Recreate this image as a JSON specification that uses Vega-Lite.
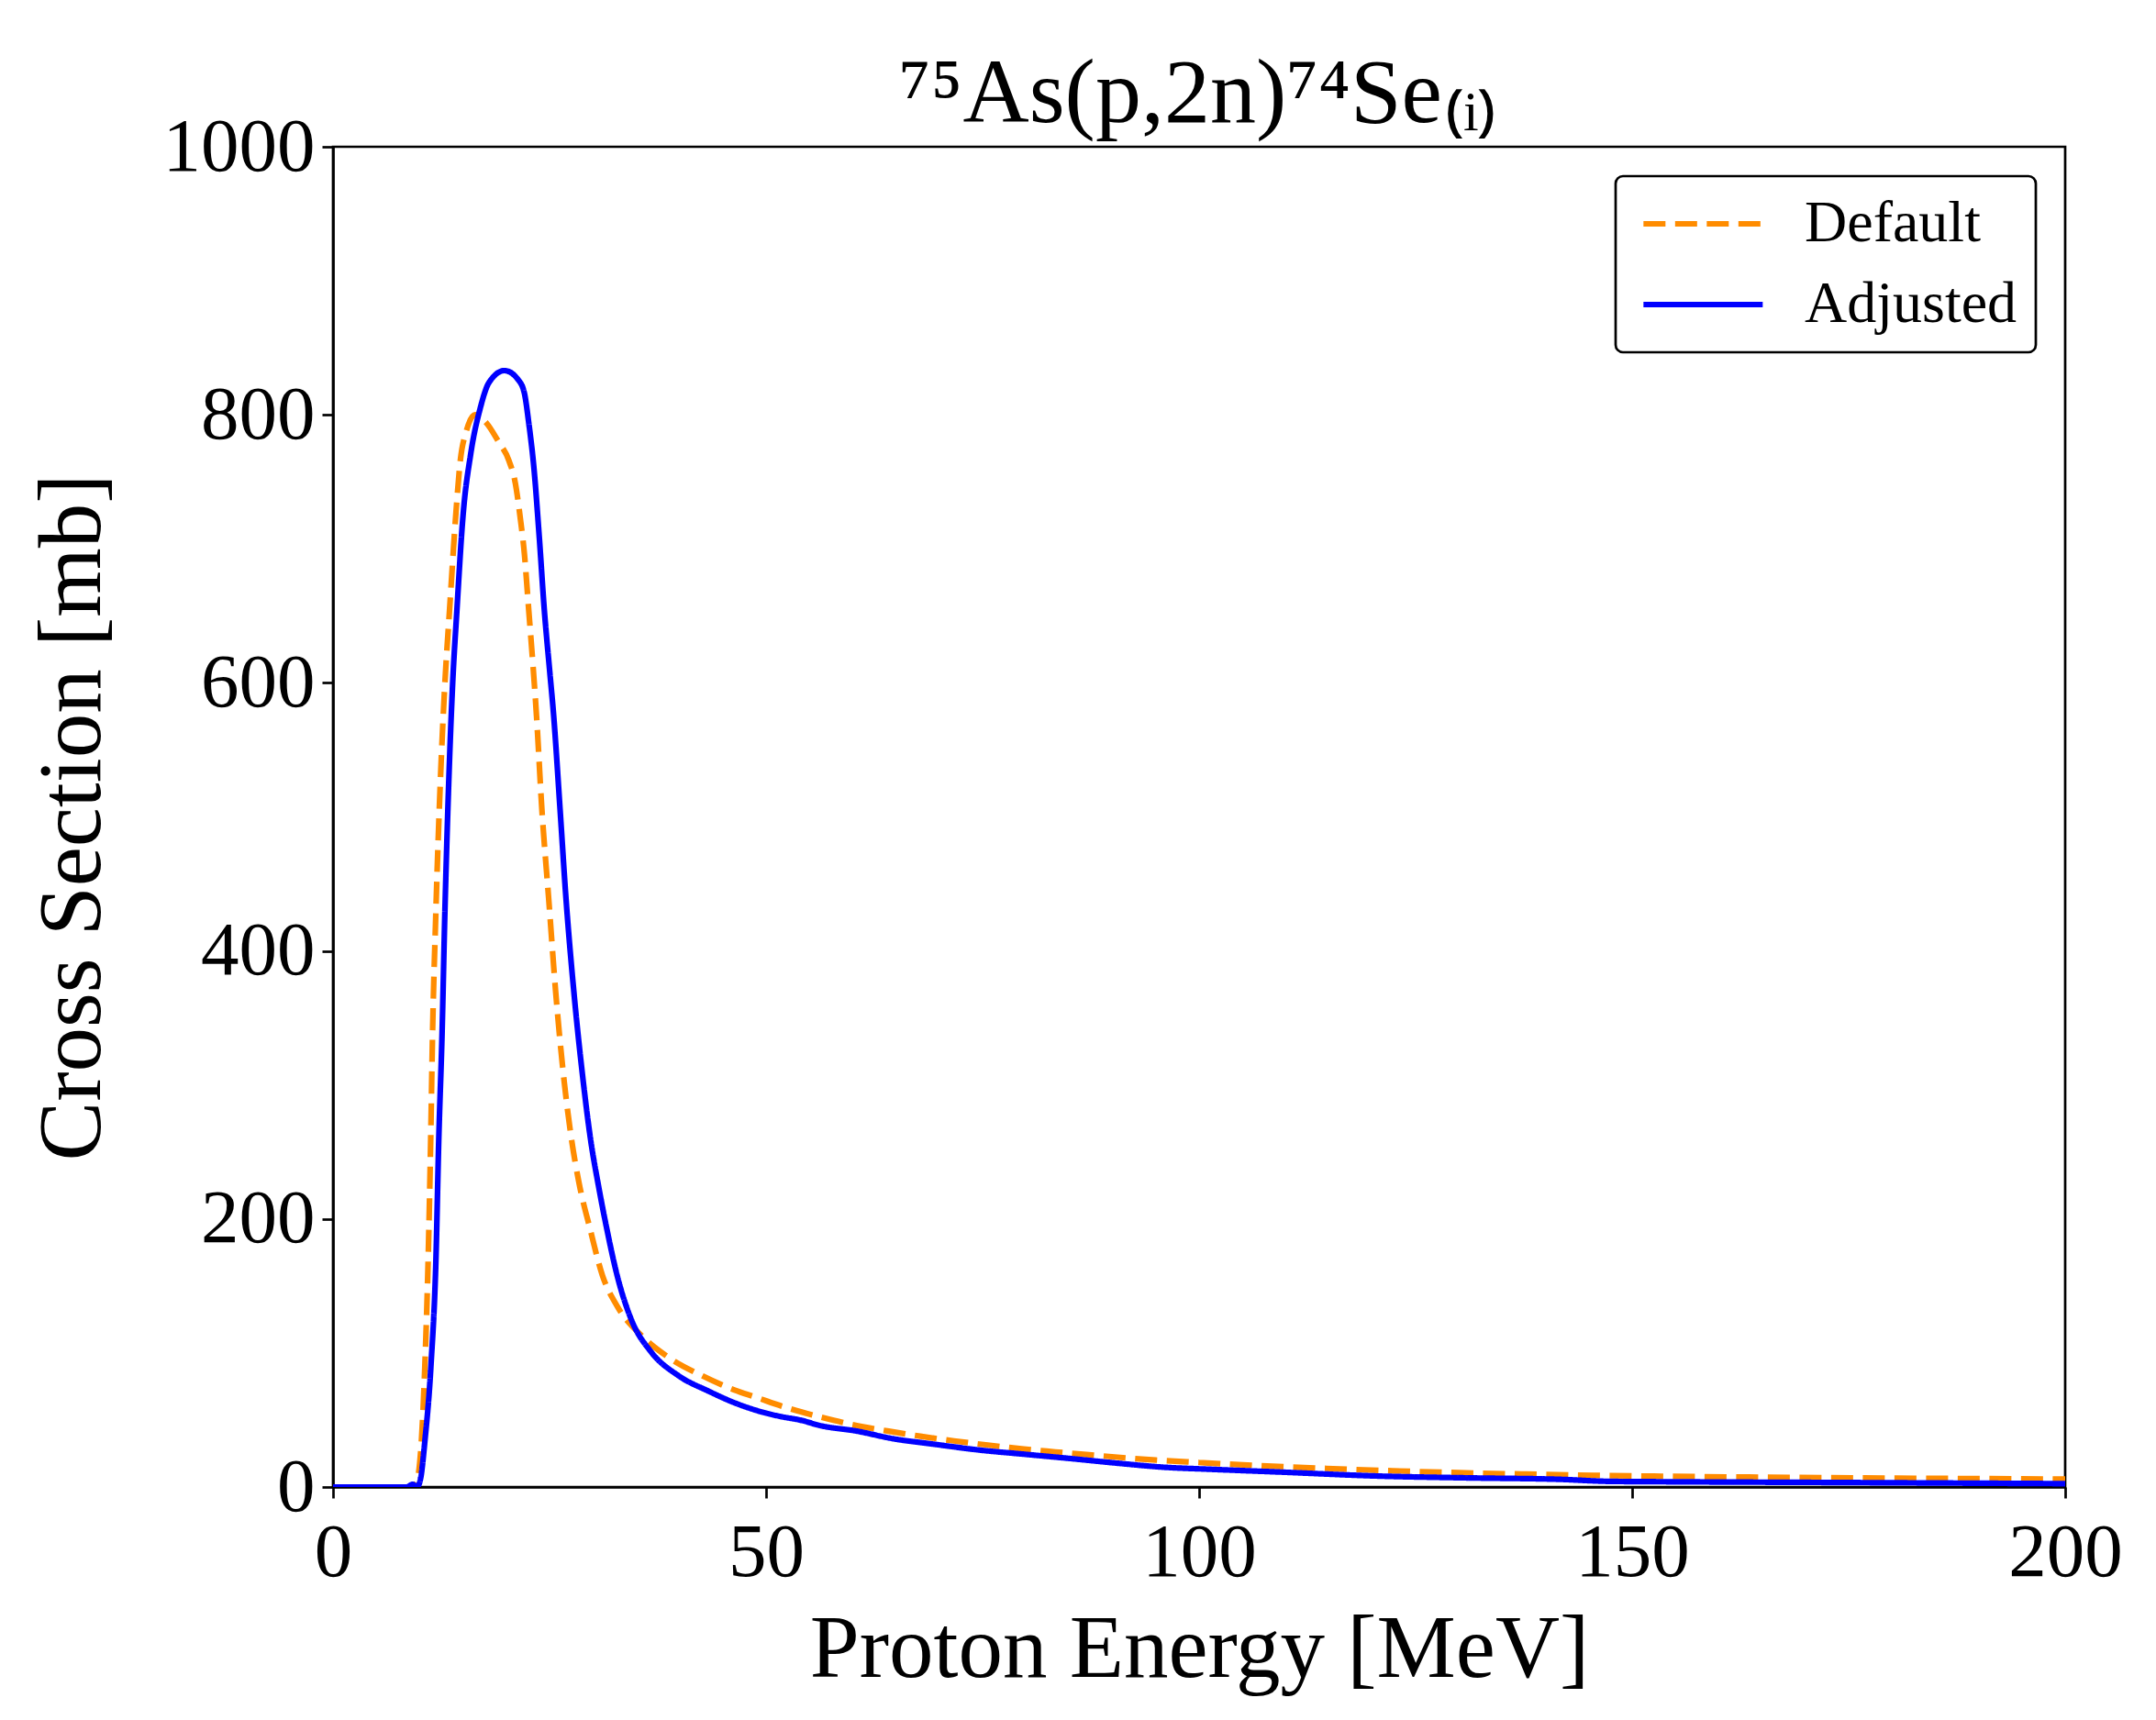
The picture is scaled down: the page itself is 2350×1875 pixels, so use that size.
{
  "$schema": "https://vega.github.io/schema/vega-lite/v6.json",
  "autosize": "none",
  "width": 1888,
  "height": 1461,
  "padding": {"left": 363, "top": 160, "right": 99, "bottom": 254},
  "background": "white",
  "title": {
    "text": "⁷⁵As(p,2n)⁷⁴Se₍ᵢ₎",
    "font": "Liberation Serif",
    "fontSize": 100,
    "fontWeight": "normal",
    "color": "black",
    "anchor": "middle",
    "baseline": "alphabetic",
    "offset": 27,
    "dy": 141
  },
  "config": {
    "font": "Liberation Serif",
    "view": {"stroke": "black", "strokeWidth": 2.7},
    "axis": {
      "grid": false,
      "domainColor": "black",
      "domainWidth": 2.7,
      "tickColor": "black",
      "tickWidth": 2.7,
      "tickSize": 12,
      "labelFont": "Liberation Serif",
      "labelFontSize": 83,
      "labelColor": "black",
      "labelLimit": 400,
      "titleFont": "Liberation Serif",
      "titleFontSize": 97,
      "titleFontWeight": "normal",
      "titleColor": "black"
    },
    "legend": {
      "title": null,
      "orient": "top-right",
      "offset": 32,
      "symbolType": "M-1,0H5",
      "symbolSize": 1878,
      "symbolStrokeWidth": 6.2,
      "labelFont": "Liberation Serif",
      "labelFontSize": 64,
      "labelColor": "black",
      "labelLimit": 600,
      "labelOffset": 122,
      "padding": 20,
      "rowPadding": 24,
      "strokeColor": "black",
      "cornerRadius": 8,
      "fillColor": "white"
    }
  },
  "data": {
    "values": [
      {"series": "Default", "E": 0, "xs": 0},
      {"series": "Default", "E": 5, "xs": 0},
      {"series": "Default", "E": 9.0, "xs": 0},
      {"series": "Default", "E": 9.6, "xs": 3},
      {"series": "Default", "E": 10.2, "xs": 34},
      {"series": "Default", "E": 10.6, "xs": 90},
      {"series": "Default", "E": 11.0, "xs": 174},
      {"series": "Default", "E": 11.27, "xs": 257},
      {"series": "Default", "E": 11.5, "xs": 341},
      {"series": "Default", "E": 11.85, "xs": 424},
      {"series": "Default", "E": 12.4, "xs": 528},
      {"series": "Default", "E": 12.9, "xs": 598},
      {"series": "Default", "E": 13.45, "xs": 654},
      {"series": "Default", "E": 14.16, "xs": 724},
      {"series": "Default", "E": 14.7, "xs": 766},
      {"series": "Default", "E": 15.4, "xs": 788},
      {"series": "Default", "E": 16.4, "xs": 800},
      {"series": "Default", "E": 17.7, "xs": 794},
      {"series": "Default", "E": 19.1, "xs": 780},
      {"series": "Default", "E": 20.3, "xs": 766},
      {"series": "Default", "E": 21.05, "xs": 749},
      {"series": "Default", "E": 21.6, "xs": 724},
      {"series": "Default", "E": 22.1, "xs": 696},
      {"series": "Default", "E": 22.6, "xs": 654},
      {"series": "Default", "E": 23.1, "xs": 612},
      {"series": "Default", "E": 23.5, "xs": 575},
      {"series": "Default", "E": 24.1, "xs": 507},
      {"series": "Default", "E": 24.9, "xs": 439},
      {"series": "Default", "E": 25.7, "xs": 370},
      {"series": "Default", "E": 26.7, "xs": 302},
      {"series": "Default", "E": 27.5, "xs": 261},
      {"series": "Default", "E": 28.4, "xs": 227},
      {"series": "Default", "E": 29.7, "xs": 192},
      {"series": "Default", "E": 31.1, "xs": 158},
      {"series": "Default", "E": 32.8, "xs": 135},
      {"series": "Default", "E": 35.7, "xs": 112.5},
      {"series": "Default", "E": 38.8, "xs": 96.5},
      {"series": "Default", "E": 42.7, "xs": 82.8},
      {"series": "Default", "E": 46.3, "xs": 72.5},
      {"series": "Default", "E": 48.8, "xs": 67},
      {"series": "Default", "E": 52.5, "xs": 58.9},
      {"series": "Default", "E": 56.4, "xs": 52},
      {"series": "Default", "E": 60.1, "xs": 46.3},
      {"series": "Default", "E": 64.0, "xs": 41.8},
      {"series": "Default", "E": 67.8, "xs": 37.9},
      {"series": "Default", "E": 71.7, "xs": 34.4},
      {"series": "Default", "E": 75.6, "xs": 31.3},
      {"series": "Default", "E": 79.5, "xs": 28.5},
      {"series": "Default", "E": 83.4, "xs": 26.2},
      {"series": "Default", "E": 87.3, "xs": 24},
      {"series": "Default", "E": 91.2, "xs": 21.9},
      {"series": "Default", "E": 95.0, "xs": 20.1},
      {"series": "Default", "E": 100.0, "xs": 18.3},
      {"series": "Default", "E": 106.7, "xs": 16},
      {"series": "Default", "E": 114.5, "xs": 13.9},
      {"series": "Default", "E": 122.3, "xs": 12.1},
      {"series": "Default", "E": 130.0, "xs": 10.7},
      {"series": "Default", "E": 137.8, "xs": 9.6},
      {"series": "Default", "E": 145.6, "xs": 8.7},
      {"series": "Default", "E": 153.4, "xs": 8.0},
      {"series": "Default", "E": 165.0, "xs": 7.3},
      {"series": "Default", "E": 180.6, "xs": 6.6},
      {"series": "Default", "E": 200.0, "xs": 5.9},
      {"series": "Adjusted", "E": 0, "xs": 0},
      {"series": "Adjusted", "E": 5, "xs": 0},
      {"series": "Adjusted", "E": 8.5, "xs": 0},
      {"series": "Adjusted", "E": 9.2, "xs": 2},
      {"series": "Adjusted", "E": 9.7, "xs": 0},
      {"series": "Adjusted", "E": 10.1, "xs": 6},
      {"series": "Adjusted", "E": 10.6, "xs": 34},
      {"series": "Adjusted", "E": 11.3, "xs": 90},
      {"series": "Adjusted", "E": 11.9, "xs": 174},
      {"series": "Adjusted", "E": 12.2, "xs": 257},
      {"series": "Adjusted", "E": 12.6, "xs": 341},
      {"series": "Adjusted", "E": 12.9, "xs": 425},
      {"series": "Adjusted", "E": 13.3, "xs": 514},
      {"series": "Adjusted", "E": 13.8, "xs": 598},
      {"series": "Adjusted", "E": 14.3, "xs": 654},
      {"series": "Adjusted", "E": 15.0, "xs": 724},
      {"series": "Adjusted", "E": 15.9, "xs": 771},
      {"series": "Adjusted", "E": 17.0, "xs": 805},
      {"series": "Adjusted", "E": 18.0, "xs": 824},
      {"series": "Adjusted", "E": 19.8, "xs": 833},
      {"series": "Adjusted", "E": 21.4, "xs": 826},
      {"series": "Adjusted", "E": 22.1, "xs": 816},
      {"series": "Adjusted", "E": 22.6, "xs": 794},
      {"series": "Adjusted", "E": 23.2, "xs": 760},
      {"series": "Adjusted", "E": 23.8, "xs": 710},
      {"series": "Adjusted", "E": 24.4, "xs": 654},
      {"series": "Adjusted", "E": 25.0, "xs": 610},
      {"series": "Adjusted", "E": 25.47, "xs": 576},
      {"series": "Adjusted", "E": 26.2, "xs": 507},
      {"series": "Adjusted", "E": 26.9, "xs": 439},
      {"series": "Adjusted", "E": 27.8, "xs": 370},
      {"series": "Adjusted", "E": 28.9, "xs": 302},
      {"series": "Adjusted", "E": 29.7, "xs": 261},
      {"series": "Adjusted", "E": 30.7, "xs": 223},
      {"series": "Adjusted", "E": 31.6, "xs": 193},
      {"series": "Adjusted", "E": 32.8, "xs": 158},
      {"series": "Adjusted", "E": 34.5, "xs": 124},
      {"series": "Adjusted", "E": 36.7, "xs": 101},
      {"series": "Adjusted", "E": 39.9, "xs": 83},
      {"series": "Adjusted", "E": 43.4, "xs": 71.4},
      {"series": "Adjusted", "E": 46.3, "xs": 63},
      {"series": "Adjusted", "E": 49.5, "xs": 56},
      {"series": "Adjusted", "E": 51.6, "xs": 52.7},
      {"series": "Adjusted", "E": 54.1, "xs": 49.7},
      {"series": "Adjusted", "E": 56.2, "xs": 45.9},
      {"series": "Adjusted", "E": 60.4, "xs": 41.8},
      {"series": "Adjusted", "E": 64.7, "xs": 36},
      {"series": "Adjusted", "E": 69.3, "xs": 32},
      {"series": "Adjusted", "E": 74.6, "xs": 27.6},
      {"series": "Adjusted", "E": 79.9, "xs": 24.4},
      {"series": "Adjusted", "E": 85.2, "xs": 21.2},
      {"series": "Adjusted", "E": 90.5, "xs": 17.8},
      {"series": "Adjusted", "E": 95.8, "xs": 14.8},
      {"series": "Adjusted", "E": 101.4, "xs": 13.2},
      {"series": "Adjusted", "E": 109.9, "xs": 11},
      {"series": "Adjusted", "E": 120.5, "xs": 8.2},
      {"series": "Adjusted", "E": 131.1, "xs": 6.8},
      {"series": "Adjusted", "E": 141.7, "xs": 5.7},
      {"series": "Adjusted", "E": 147.4, "xs": 4.2},
      {"series": "Adjusted", "E": 154.4, "xs": 3.9},
      {"series": "Adjusted", "E": 172.0, "xs": 3.4},
      {"series": "Adjusted", "E": 200.0, "xs": 2.5}
    ]
  },
  "mark": {"type": "line", "strokeWidth": 6.2, "clip": true, "interpolate": "monotone"},
  "encoding": {
    "x": {
      "field": "E",
      "type": "quantitative",
      "scale": {"domain": [0, 200], "nice": false, "zero": false},
      "axis": {"values": [0, 50, 100, 150, 200], "format": "d", "title": "Proton Energy [MeV]", "labelPadding": 18, "titlePadding": 16, "labelFlush": false}
    },
    "y": {
      "field": "xs",
      "type": "quantitative",
      "scale": {"domain": [0, 1000], "nice": false},
      "axis": {"values": [0, 200, 400, 600, 800, 1000], "format": "d", "title": "Cross Section [mb]", "labelPadding": 8, "titlePadding": 49, "labelFlush": false}
    },
    "color": {
      "field": "series",
      "type": "nominal",
      "sort": ["Default", "Adjusted"],
      "scale": {"domain": ["Default", "Adjusted"], "range": ["#ff8c00", "#0000ff"]},
      "legend": {"encode": {"legend": {"update": {"strokeWidth": {"value": 2.7}}}}}
    },
    "strokeDash": {
      "field": "series",
      "type": "nominal",
      "sort": ["Default", "Adjusted"],
      "scale": {"domain": ["Default", "Adjusted"], "range": [[24, 10.5], [1, 0]]},
      "legend": {"encode": {"legend": {"update": {"strokeWidth": {"value": 2.7}}}}}
    }
  }
}
